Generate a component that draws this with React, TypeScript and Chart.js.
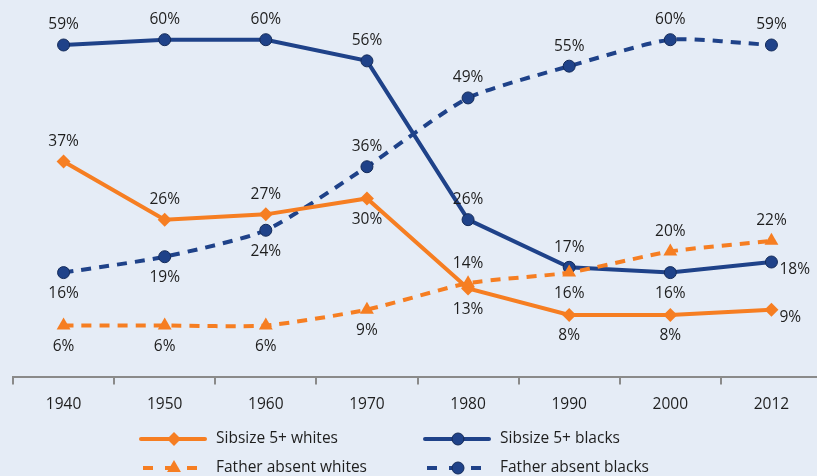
import React, { useEffect, useRef } from 'react';
import { Chart, registerables } from 'chart.js';

Chart.register(...registerables);

const categories = ['1940', '1950', '1960', '1970', '1980', '1990', '2000', '2012'];
const sibsizeWhites = [37, 26, 27, 30, 13, 8, 8, 9];
const sibsizeBlacks = [59, 60, 60, 56, 26, 17, 16, 18];
const fatherAbsentWhites = [6, 6, 6, 9, 14, 16, 20, 22];
const fatherAbsentBlacks = [16, 19, 24, 36, 49, 55, 60, 59];

const sibsizeWhitesLabelPos = ['above', 'above', 'above', 'below', 'below', 'below', 'below', 'right'];
const sibsizeBlacksLabelPos = ['above', 'above', 'above', 'above', 'above', 'above', 'below', 'right'];
const fatherAbsentWhitesLabelPos = ['below', 'below', 'below', 'below', 'above', 'below', 'above', 'above'];
const fatherAbsentBlacksLabelPos = ['below', 'below', 'below', 'above', 'above', 'above', 'above', 'above'];

const ORANGE = '#F67E22';
const NAVY = '#1F4289';
const NAVY_BORDER = '#142B5A';
const BG = '#E5ECF6';
const TEXT = '#1E1E1E';
const FONT = "'Open Sans', 'Noto Sans', sans-serif";
const FONT_SIZE = 15.5;

const bgPlugin = {
  id: 'bgFill',
  beforeDraw(chart: any) {
    const ctx = chart.ctx;
    ctx.save();
    ctx.fillStyle = BG;
    ctx.fillRect(0, 0, chart.width, chart.height);
    ctx.restore();
  },
};

const labelPlugin = {
  id: 'valueLabels',
  afterDatasetsDraw(chart: any) {
    const ctx = chart.ctx;
    ctx.save();
    ctx.font = `${FONT_SIZE}px ${FONT}`;
    ctx.fillStyle = TEXT;
    chart.data.datasets.forEach((ds: any, di: number) => {
      const meta = chart.getDatasetMeta(di);
      meta.data.forEach((pt: any, i: number) => {
        const pos = ds.labelPos[i];
        const txt = ds.data[i] + '%';
        let x = pt.x;
        let y = pt.y;
        ctx.textBaseline = 'middle';
        if (pos === 'above') {
          ctx.textAlign = 'center';
          y -= 20;
        } else if (pos === 'below') {
          ctx.textAlign = 'center';
          y += 21;
        } else {
          ctx.textAlign = 'left';
          x += 8;
          y += 8;
        }
        ctx.fillText(txt, x, y);
      });
    });
    ctx.restore();
  },
};

function drawMarker(ctx: CanvasRenderingContext2D, style: string, r: number, x: number, y: number) {
  ctx.beginPath();
  if (style === 'rectRot') {
    ctx.moveTo(x - r, y);
    ctx.lineTo(x, y - r);
    ctx.lineTo(x + r, y);
    ctx.lineTo(x, y + r);
    ctx.closePath();
  } else if (style === 'triangle') {
    ctx.moveTo(x, y - r);
    ctx.lineTo(x + r * 0.866, y + r * 0.5);
    ctx.lineTo(x - r * 0.866, y + r * 0.5);
    ctx.closePath();
  } else {
    ctx.arc(x, y, r, 0, Math.PI * 2);
  }
}

const legendPlugin = {
  id: 'customLegend',
  afterDraw(chart: any) {
    const ctx = chart.ctx;
    const cols = [141, 425];
    const rows = [439, 468];
    ctx.save();
    chart.data.datasets.forEach((ds: any, di: number) => {
      const x0 = cols[di % 2];
      const y = rows[Math.floor(di / 2)];
      const dashed = ds.borderDash && ds.borderDash.length > 0;
      ctx.strokeStyle = ds.borderColor;
      ctx.lineWidth = 4;
      ctx.lineCap = dashed ? 'butt' : 'round';
      if (dashed) {
        ctx.setLineDash([10, 12]);
        ctx.beginPath();
        ctx.moveTo(x0 + 2, y);
        ctx.lineTo(x0 + 56, y);
        ctx.stroke();
      } else {
        ctx.setLineDash([]);
        ctx.beginPath();
        ctx.moveTo(x0, y);
        ctx.lineTo(x0 + 64, y);
        ctx.stroke();
      }
      ctx.setLineDash([]);
      const mx = x0 + 33;
      drawMarker(ctx, ds.pointStyle, ds.pointRadius, mx, y);
      ctx.fillStyle = ds.pointBackgroundColor;
      ctx.fill();
      if (ds.pointBorderWidth > 0) {
        ctx.lineWidth = ds.pointBorderWidth;
        ctx.strokeStyle = ds.pointBorderColor;
        ctx.stroke();
      }
      ctx.font = `${FONT_SIZE}px ${FONT}`;
      ctx.fillStyle = TEXT;
      ctx.textAlign = 'left';
      ctx.textBaseline = 'middle';
      ctx.fillText(ds.label, x0 + 75, y);
    });
    ctx.restore();
  },
};

export default function App() {
  const canvasRef = useRef<HTMLCanvasElement | null>(null);

  useEffect(() => {
    if (!canvasRef.current) return;
    Chart.defaults.font.family = FONT;
    const chart = new Chart(canvasRef.current, {
      type: 'line',
      data: {
        labels: categories,
        datasets: [
          {
            label: 'Sibsize 5+ whites',
            data: sibsizeWhites,
            labelPos: sibsizeWhitesLabelPos,
            borderColor: ORANGE,
            backgroundColor: ORANGE,
            borderWidth: 4,
            borderDash: [],
            pointStyle: 'rectRot',
            pointRadius: 7,
            pointBackgroundColor: ORANGE,
            pointBorderColor: ORANGE,
            pointBorderWidth: 0,
            tension: 0,
            order: 1,
          } as any,
          {
            label: 'Sibsize 5+ blacks',
            data: sibsizeBlacks,
            labelPos: sibsizeBlacksLabelPos,
            borderColor: NAVY,
            backgroundColor: NAVY,
            borderWidth: 4,
            borderDash: [],
            pointStyle: 'circle',
            pointRadius: 6,
            pointBackgroundColor: NAVY,
            pointBorderColor: NAVY_BORDER,
            pointBorderWidth: 1,
            tension: 0,
            order: 2,
          } as any,
          {
            label: 'Father absent whites',
            data: fatherAbsentWhites,
            labelPos: fatherAbsentWhitesLabelPos,
            borderColor: ORANGE,
            backgroundColor: ORANGE,
            borderWidth: 4,
            borderDash: [10, 8],
            pointStyle: 'triangle',
            pointRadius: 8,
            pointBackgroundColor: ORANGE,
            pointBorderColor: ORANGE,
            pointBorderWidth: 0,
            tension: 0.2,
            order: 0,
          } as any,
          {
            label: 'Father absent blacks',
            data: fatherAbsentBlacks,
            labelPos: fatherAbsentBlacksLabelPos,
            borderColor: NAVY,
            backgroundColor: NAVY,
            borderWidth: 4,
            borderDash: [10, 8],
            pointStyle: 'circle',
            pointRadius: 6,
            pointBackgroundColor: NAVY,
            pointBorderColor: NAVY_BORDER,
            pointBorderWidth: 1,
            tension: 0.2,
            order: 3,
          } as any,
        ],
      },
      options: {
        responsive: false,
        animation: false,
        devicePixelRatio: 1,
        layout: { autoPadding: false, padding: { left: 13, right: 0, top: 0, bottom: 51 } },
        plugins: {
          legend: { display: false },
          tooltip: { enabled: false },
        },
        scales: {
          x: {
            type: 'category',
            offset: true,
            grid: {
              offset: true,
              display: true,
              drawOnChartArea: false,
              drawTicks: true,
              tickLength: 7,
              color: '#8A8A8A',
              lineWidth: 2,
            },
            border: { display: true, color: '#8A8A8A', width: 2 },
            ticks: { color: TEXT, font: { size: FONT_SIZE, family: FONT }, padding: 11, maxRotation: 0 },
          },
          y: { display: false, min: -3.8, max: 67.5 },
        },
      } as any,
      plugins: [bgPlugin, labelPlugin, legendPlugin],
    });
    return () => chart.destroy();
  }, []);

  return (
    <canvas
      ref={canvasRef}
      width={822}
      height={476}
      style={{ position: 'fixed', left: 0, top: 0, width: 822, height: 476, display: 'block' }}
    />
  );
}
